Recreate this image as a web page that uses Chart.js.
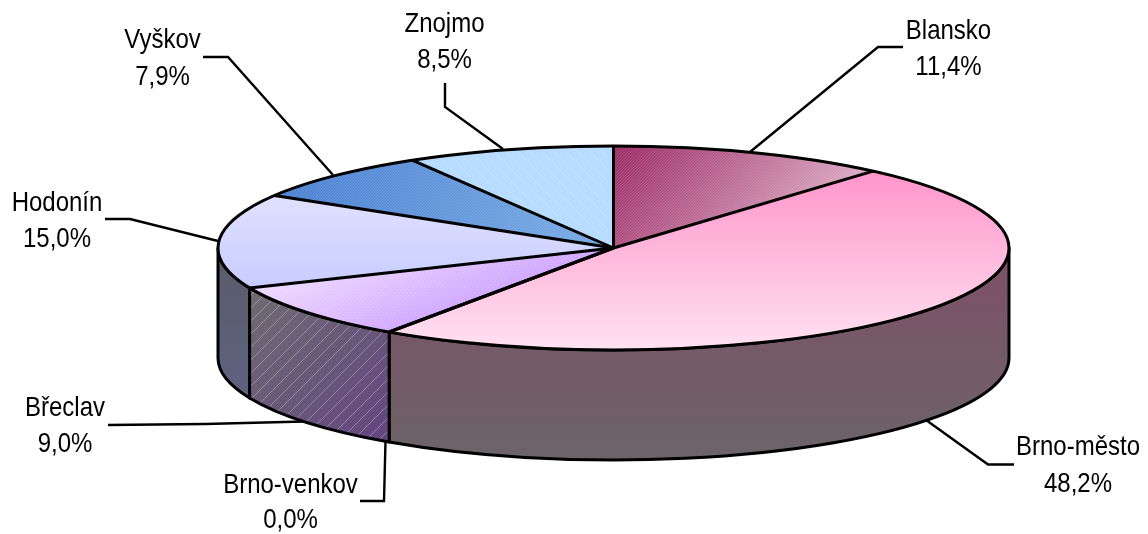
<!DOCTYPE html>
<html><head><meta charset="utf-8">
<style>html,body{margin:0;padding:0;background:#fff}canvas{display:block}</style>
<script src="https://cdn.jsdelivr.net/npm/chart.js@4/dist/chart.umd.min.js"></script>
</head><body><canvas id="c" width="1148" height="534" style="width:1148px;height:534px"></canvas>
<script>
const categories = ["Blansko","Brno-město","Brno-venkov","Břeclav","Hodonín","Vyškov","Znojmo"];
const shares = [11.4,48.2,0.0,9.0,15.0,7.9,8.5];
const shareLabels = ["11,4%","48,2%","0,0%","9,0%","15,0%","7,9%","8,5%"];

const W=1148,H=534;
const G={cx:613.5,cy:248,rx:395.5,ry:102,depth:110};
// callouts: text centre x, first/second baselines, leader elbow points ending on the rim
const callouts=[
 {tx:948.5,b1:38.5,b2:75,pts:[[903,47],[878,47],[750,152]]},
 {tx:1078,b1:455,b2:491.7,pts:[[1014,464.5],[988,464.5],[926,420]]},
 {tx:290.5,b1:492.5,b2:528,pts:[[360,501],[384,501],[385.5,441]]},
 {tx:65,b1:415.5,b2:452,pts:[[108,425],[205,424],[304,421.5]]},
 {tx:57,b1:210.7,b2:246.7,pts:[[105,219],[130,219],[218,241]]},
 {tx:162.5,b1:48.3,b2:85,pts:[[203,57],[228,57],[333,175]]},
 {tx:444.5,b1:31.7,b2:68.3,pts:[[445,83],[445,107],[503,149]]}
];
function tex(paint){const c=document.createElement('canvas');c.width=W;c.height=H;paint(c.getContext('2d'));return c;}
function lin(g,x0,y0,x1,y1,a,b){const l=g.createLinearGradient(x0,y0,x1,y1);l.addColorStop(0,a);l.addColorStop(1,b);return l;}
function hatch(g,step,width,color,dash){g.save();g.strokeStyle=color;g.lineWidth=width;if(dash)g.setLineDash(dash);g.beginPath();
 for(let d=-H;d<W+H;d+=step){g.moveTo(d,H);g.lineTo(d+H,0);}g.stroke();g.restore();}
function hatchDown(g,step,width,color,dash){g.save();g.strokeStyle=color;g.lineWidth=width;if(dash)g.setLineDash(dash);g.beginPath();
 for(let d=-H;d<W+H;d+=step){g.moveTo(d,0);g.lineTo(d+H,H);}g.stroke();g.restore();}
const textures=[
 tex(g=>{g.fillStyle=lin(g,615,148,785,288,'#9c2c66','#deb0c8');g.fillRect(0,0,W,H);hatch(g,3,1,'rgba(255,255,255,.12)');}),
 tex(g=>{g.fillStyle=lin(g,0,180,0,350,'#ff99cc','#ffe2f1');g.fillRect(0,0,W,H);}),
 tex(g=>{g.fillStyle='#cc99ff';g.fillRect(0,0,W,H);}),
 tex(g=>{g.fillStyle=lin(g,250,280,290,380,'#f1e0ff','#cfa6ff');g.fillRect(0,0,W,H);hatch(g,4,1,'rgba(255,255,255,.18)',[2,2]);}),
 tex(g=>{g.fillStyle=lin(g,0,190,0,290,'#e2e2ff','#c6ccff');g.fillRect(0,0,W,H);}),
 tex(g=>{g.fillStyle=lin(g,290,190,560,240,'#4c82d2','#74a6e2');g.fillRect(0,0,W,H);hatch(g,3,1,'rgba(255,255,255,.12)');}),
 tex(g=>{g.fillStyle='#b8dcff';g.fillRect(0,0,W,H);hatchDown(g,12,1,'rgba(255,255,255,.3)',[2,2]);})
];
const wallTextures={
 1:tex(g=>{g.fillStyle=lin(g,0,250,0,460,'#7d5066','#6c6468');g.fillRect(0,0,W,H);}),
 3:tex(g=>{g.fillStyle=lin(g,250,300,386,440,'#6e6a72','#644680');g.fillRect(0,0,W,H);hatch(g,13,1,'rgba(255,255,255,.3)');}),
 4:tex(g=>{g.fillStyle=lin(g,0,260,0,400,'#5a5c6a','#5e6280');g.fillRect(0,0,W,H);})
};
const ctx=document.getElementById('c').getContext('2d');
const patterns=textures.map(t=>ctx.createPattern(t,'no-repeat'));

function pt(a){return [G.cx+G.rx*Math.cos(a),G.cy+G.ry*Math.sin(a)];}
const RIM=3;
const pie3d={
 id:'pie3d',
 beforeDatasetsDraw(chart){
  const c=chart.ctx,arcs=chart.getDatasetMeta(0).data,a0=arcs[0];
  const R=a0.outerRadius,sx=G.rx/R,sy=G.ry/R;
  const m=new DOMMatrix().translate(G.cx,G.cy).scale(sx,sy).translate(-a0.x,-a0.y);
  const inv=m.inverse();
  patterns.forEach(p=>p.setTransform(inv));
  c.save();
  c.lineJoin='round';
  arcs.forEach((arc,i)=>{
   const s=Math.max(arc.startAngle,0),e=Math.min(arc.endAngle,Math.PI);
   if(e<=s||!wallTextures[i])return;
   c.beginPath();
   c.ellipse(G.cx,G.cy,G.rx,G.ry,0,s,e);
   c.ellipse(G.cx,G.cy+G.depth,G.rx,G.ry,0,e,s,true);
   c.closePath();
   c.fillStyle=c.createPattern(wallTextures[i],'no-repeat');
   c.fill();
   c.strokeStyle='#000';c.lineWidth=RIM;c.stroke();
  });
  c.restore();
  c.save();
  c.translate(G.cx,G.cy);c.scale(sx,sy);c.translate(-a0.x,-a0.y);
 },
 afterDatasetsDraw(chart){
  const c=chart.ctx,arcs=chart.getDatasetMeta(0).data;
  c.restore();
  c.save();
  c.strokeStyle='#000';c.lineWidth=RIM;c.lineJoin='round';
  c.beginPath();c.ellipse(G.cx,G.cy,G.rx,G.ry,0,0,Math.PI*2);c.stroke();
  arcs.forEach(arc=>{const p=pt(arc.startAngle);c.beginPath();c.moveTo(G.cx,G.cy);c.lineTo(p[0],p[1]);c.stroke();});
  c.lineWidth=2.4;c.lineJoin='miter';
  callouts.forEach(o=>{c.beginPath();o.pts.forEach((p,j)=>j?c.lineTo(p[0],p[1]):c.moveTo(p[0],p[1]));c.stroke();});
  c.fillStyle='#000';c.font='28px "Liberation Sans", Arial, sans-serif';c.textAlign='center';c.textBaseline='alphabetic';
  const kx=0.857;
  callouts.forEach((o,i)=>{
   c.save();c.translate(o.tx,0);c.scale(kx,1);
   c.fillText(chart.data.labels[i],0,o.b1);
   c.fillText(shareLabels[i],0,o.b2);
   c.restore();
  });
  c.restore();
 }
};
new Chart(ctx,{
 type:'pie',
 data:{labels:categories,datasets:[{data:shares,backgroundColor:patterns,borderWidth:0,hoverOffset:0}]},
 options:{responsive:false,animation:false,rotation:0,
  layout:{padding:0},
  plugins:{legend:{display:false},tooltip:{enabled:false},title:{display:false}}},
 plugins:[pie3d]
});
</script></body></html>
